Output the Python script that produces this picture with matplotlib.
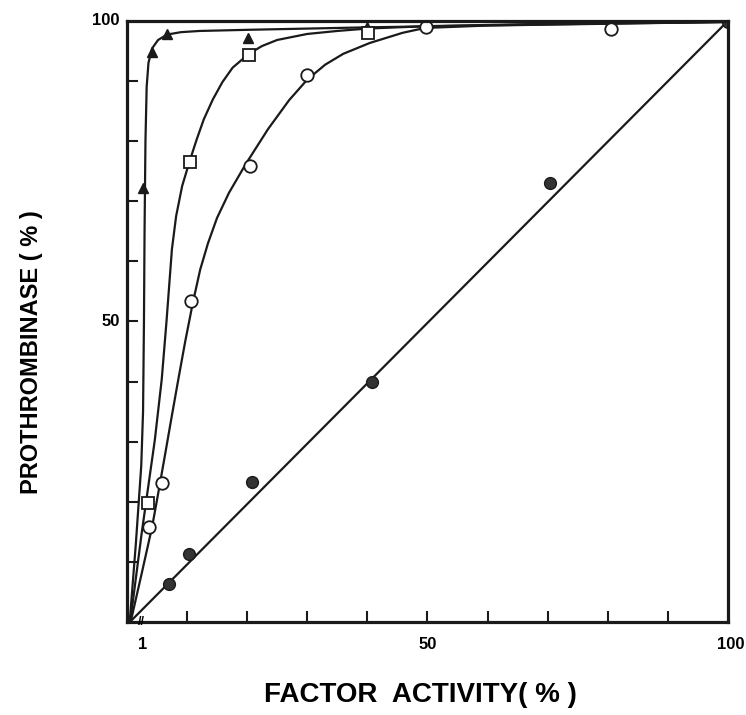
import numpy as np
import matplotlib
matplotlib.use('Agg')
import matplotlib.pyplot as plt

plt.rcParams['font.family'] = ['Liberation Sans', 'DejaVu Sans']
plt.rcParams['font.weight'] = 'bold'

# fitted curves (factor activity %, prothrombinase %)
tri_curve_x = [0.5, 1.5, 2.4, 2.7, 2.85, 2.95, 3.1, 3.3, 3.6, 4.2, 5.2, 6.7, 9.0, 12.1, 20.5, 40, 70, 100]
tri_curve_y = [0.3, 13, 26, 35, 50, 65, 80, 89, 93, 95.4, 96.8, 97.7, 98.1, 98.3, 98.5, 98.9, 99.4, 99.8]

sq_curve_x = [0.6, 2.5, 4.66, 5.8, 6.6, 7.5, 8.2, 9.2, 10.4, 11.6, 12.8, 14.3, 15.9, 17.6,
              20.3, 22.5, 25, 30, 35, 40, 50, 70, 100]
sq_curve_y = [0.3, 15, 30.3, 40.3, 50, 62, 67.5, 72.5, 76.5, 80.2, 83.6, 86.9, 89.8, 92.2,
              94.5, 95.8, 96.8, 97.8, 98.3, 98.7, 99.1, 99.5, 99.8]

circ_curve_x = [0.7, 2.5, 4.2, 5.2, 6.3, 7.4, 8.5, 9.7, 11, 12.2, 13.5, 15, 17, 19.8, 23.5,
                27, 30, 33, 36, 40.4, 45.9, 49.6, 60, 80, 100]
circ_curve_y = [0.3, 8.2, 15.8, 21.3, 27.5, 33.8, 40.0, 46.6, 53.2, 58.6, 63, 67.2, 71.4, 76.2, 82,
                86.8, 90.2, 92.7, 94.5, 96.3, 98.0, 98.8, 99.2, 99.5, 99.8]

line_x = [0.5, 100]
line_y = [0.0, 100]

# measured points
tri_x = [2.66, 4.16, 6.66, 20.1, 40.0]
tri_y = [72.2, 94.8, 97.8, 97.2, 99.0]

sq_x = [3.5, 10.5, 20.3, 40.1]
sq_y = [19.8, 76.5, 94.3, 98.0]

open_x = [3.66, 5.8, 10.6, 20.5, 30.0, 49.8, 80.5]
open_y = [15.8, 23.1, 53.4, 75.9, 91.0, 99.0, 98.7]

filled_x = [7.0, 10.3, 20.8, 40.8, 70.4, 100.0]
filled_y = [6.3, 11.3, 23.3, 39.9, 73.0, 99.8]

fig = plt.figure(figsize=(7.46, 7.15), dpi=100)
ax = fig.add_axes([0.170, 0.130, 0.806, 0.841])

lc = '#1a1a1a'
ax.plot(tri_curve_x, tri_curve_y, color=lc, lw=1.6)
ax.plot(sq_curve_x, sq_curve_y, color=lc, lw=1.6)
ax.plot(circ_curve_x, circ_curve_y, color=lc, lw=1.6)
ax.plot(line_x, line_y, color=lc, lw=1.6)

ax.plot(tri_x, tri_y, '^', ms=7, color=lc, mec=lc)
ax.plot(sq_x, sq_y, 's', ms=8, mfc='white', mec=lc, mew=1.3)
ax.plot(open_x, open_y, 'o', ms=9, mfc='white', mec=lc, mew=1.3)
ax.plot(filled_x, filled_y, 'o', ms=8.5, color='#333333', mec=lc)

ax.set_xlim(0, 100)
ax.set_ylim(0, 100)

ax.set_xticks(np.arange(10, 100, 10))
ax.set_xticklabels([])
ax.set_yticks(np.arange(10, 100, 10))
ax.set_yticklabels([])
ax.tick_params(direction='in', length=8, width=1.5, color=lc)

for s in ax.spines.values():
    s.set_linewidth(2.3)
    s.set_color(lc)

# tick labels placed as on the original
ax.text(2.7, -2.5, '1', ha='center', va='top', fontsize=12)
ax.text(50, -2.5, '50', ha='center', va='top', fontsize=12)
ax.text(100.5, -2.5, '100', ha='center', va='top', fontsize=12)
ax.text(-1.2, 50, '50', ha='right', va='center', fontsize=12)
ax.text(-1.2, 100, '100', ha='right', va='center', fontsize=12)
ax.text(2.5, 0, '//', ha='center', va='center', fontsize=9)

fig.text(0.563, 0.028, 'FACTOR  ACTIVITY( % )', ha='center', va='center', fontsize=20)
fig.text(0.042, 0.508, 'PROTHROMBINASE ( % )', ha='center', va='center',
         rotation=90, fontsize=17)

fig.savefig('out.png', dpi=100)
